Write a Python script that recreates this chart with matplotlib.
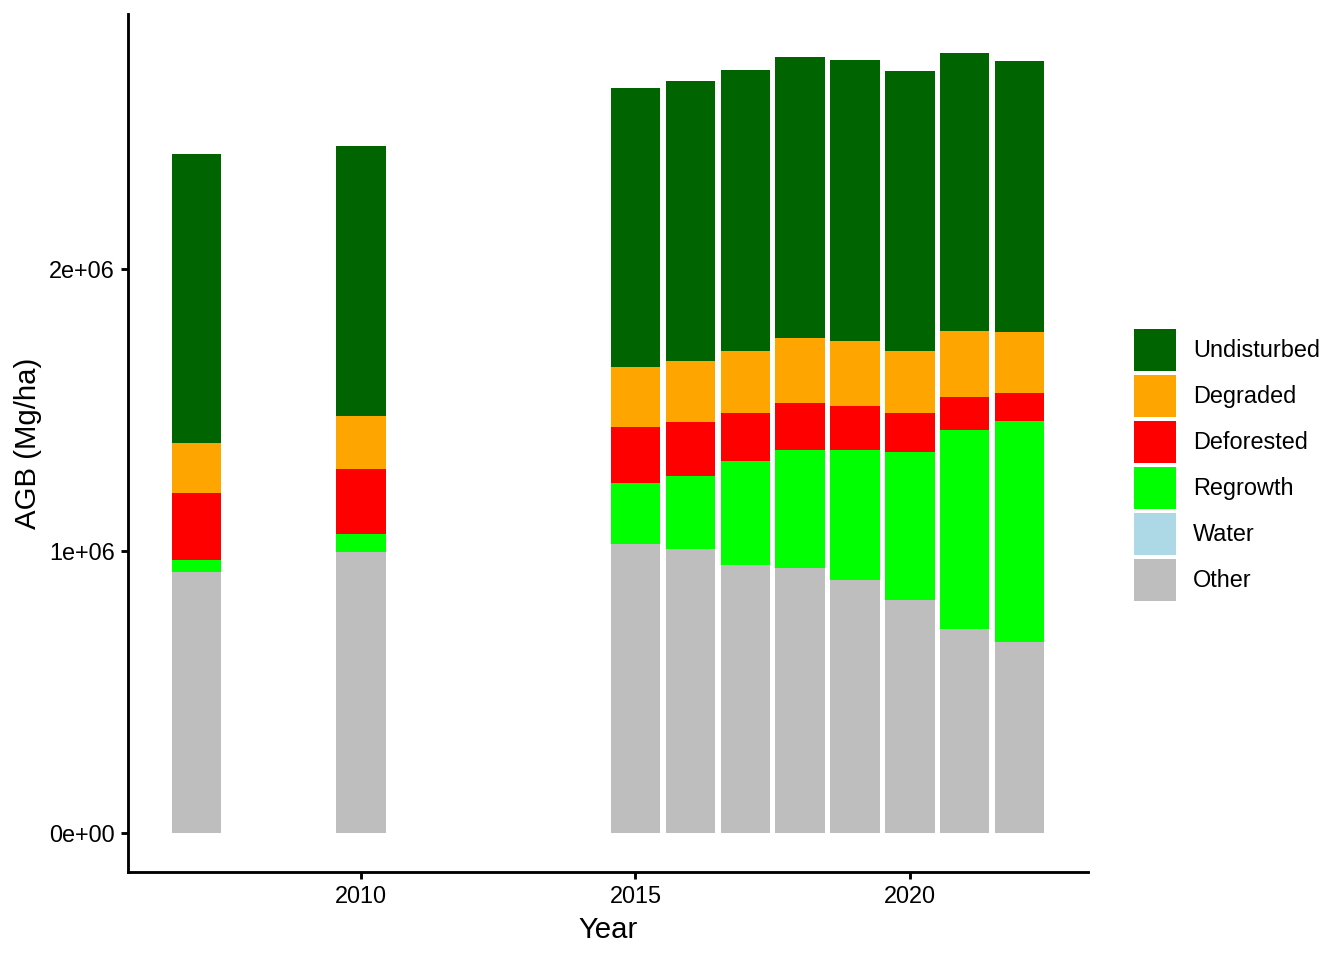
import numpy as np
import matplotlib
matplotlib.use("Agg")
import matplotlib.pyplot as plt
from matplotlib.patches import Patch

plt.rcParams['font.family'] = ['Liberation Sans', 'DejaVu Sans']

years = [2007, 2010, 2015, 2016, 2017, 2018, 2019, 2020, 2021, 2022]
# AGB per class, in Mg/ha
other       = [0.924e6, 0.995e6, 1.023e6, 1.005e6, 0.949e6, 0.938e6, 0.896e6, 0.825e6, 0.722e6, 0.676e6]
water       = [0, 0, 0, 0, 0, 0, 0, 0, 0, 0]
regrowth    = [0.042e6, 0.064e6, 0.219e6, 0.262e6, 0.371e6, 0.418e6, 0.463e6, 0.524e6, 0.705e6, 0.786e6]
deforested  = [0.241e6, 0.230e6, 0.198e6, 0.191e6, 0.170e6, 0.170e6, 0.156e6, 0.141e6, 0.120e6, 0.099e6]
degraded    = [0.177e6, 0.188e6, 0.212e6, 0.216e6, 0.220e6, 0.230e6, 0.230e6, 0.220e6, 0.234e6, 0.216e6]
undisturbed = [1.023e6, 0.959e6, 0.988e6, 0.991e6, 0.994e6, 0.994e6, 0.995e6, 0.991e6, 0.984e6, 0.959e6]

classes = ["Other", "Water", "Regrowth", "Deforested", "Degraded", "Undisturbed"]
colours = ["#BEBEBE", "#ADD8E6", "#00FF00", "#FF0000", "#FFA500", "#006400"]
series = [other, water, regrowth, deforested, degraded, undisturbed]

fig = plt.figure(figsize=(7, 5), dpi=192)
ax = fig.add_axes([128/1344, 88/960, 960/1344, 858/960])

bottom = np.zeros(len(years))
for name, col, vals in zip(classes, colours, series):
    ax.bar(years, vals, width=0.9, bottom=bottom, color=col, linewidth=0)
    bottom = bottom + np.array(vals)

top = bottom.max()
ax.set_ylim(-0.05*top, 1.05*top)
ax.set_xlim(2006.55 - 0.795, 2022.45 + 0.795)

ax.set_xticks([2010, 2015, 2020])
ax.set_yticks([0, 1e6, 2e6])
ax.set_yticklabels(["0e+00", "1e+06", "2e+06"])
ax.tick_params(labelsize=8.8, length=2.75, width=1.07, pad=2.2, colors="black")
ax.set_xlabel("Year", fontsize=11, labelpad=2.75)
ax.set_ylabel("AGB (Mg/ha)", fontsize=11, labelpad=2.75)
for s in ["top", "right"]:
    ax.spines[s].set_visible(False)
for s in ["left", "bottom"]:
    ax.spines[s].set_linewidth(1.07)

# legend keys: 17.28pt squares with white borders (row pitch = fs*(0.65*h + 0.245))
handles = [Patch(facecolor=c, edgecolor="white", linewidth=1.5, label=n)
           for n, c in zip(classes[::-1], colours[::-1])]
fig.legend(handles=handles, loc="center left",
           bbox_to_anchor=(1132/1344, 1 - 465/960), bbox_transform=fig.transFigure,
           frameon=False, fontsize=8.8, handlelength=1.96, handleheight=2.64,
           labelspacing=0, handletextpad=0.63, borderpad=0, borderaxespad=0)

fig.savefig("out.png", dpi=192)
